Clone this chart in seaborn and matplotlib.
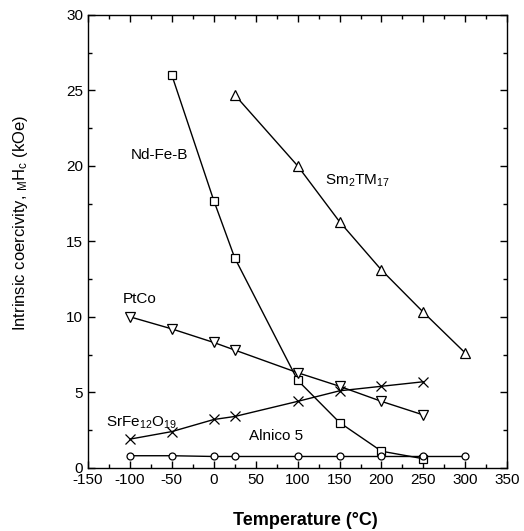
import matplotlib
matplotlib.use("Agg")
import matplotlib.pyplot as plt
from matplotlib.ticker import MultipleLocator
import pandas as pd
import seaborn as sns

# coercivity vs temperature
ndfeb_t = [-50, 0, 25, 100, 150, 200, 250]
ndfeb_h = [26.0, 17.7, 13.9, 5.8, 3.0, 1.1, 0.6]

smtm_t = [25, 100, 150, 200, 250, 300]
smtm_h = [24.7, 20.0, 16.3, 13.1, 10.3, 7.6]

ptco_t = [-100, -50, 0, 25, 100, 150, 200, 250]
ptco_h = [10.0, 9.2, 8.3, 7.8, 6.3, 5.4, 4.4, 3.5]

srfe_t = [-100, -50, 0, 25, 100, 150, 200, 250]
srfe_h = [1.9, 2.4, 3.2, 3.4, 4.4, 5.1, 5.4, 5.7]

alnico_t = [-100, -50, 0, 25, 100, 150, 200, 250, 300]
alnico_h = [0.8, 0.8, 0.75, 0.75, 0.75, 0.75, 0.75, 0.75, 0.75]

sns.set_style("ticks")
plt.rcParams['font.family'] = ['Liberation Sans', 'DejaVu Sans']
plt.rcParams['mathtext.default'] = 'regular'
plt.rcParams['axes.unicode_minus'] = False
plt.rcParams['text.color'] = 'black'
plt.rcParams['axes.labelcolor'] = 'black'

series = [
    (ndfeb_t, ndfeb_h, 's', 5.5),
    (smtm_t, smtm_h, '^', 6.5),
    (ptco_t, ptco_h, 'v', 6.5),
    (srfe_t, srfe_h, 'x', 7),
    (alnico_t, alnico_h, 'o', 5),
]

fig = plt.figure(figsize=(5.24, 5.31), dpi=100)
ax = fig.add_axes([0.168, 0.119, 0.800, 0.853])

for t, h, m, ms in series:
    df = pd.DataFrame({'T': t, 'H': h})
    sns.lineplot(data=df, x='T', y='H', ax=ax, color='black', linewidth=1.0,
                 marker=m, markersize=ms, markerfacecolor='white',
                 markeredgecolor='black', markeredgewidth=0.9)

ax.set_xlim(-150, 350)
ax.set_ylim(0, 30)
ax.xaxis.set_major_locator(MultipleLocator(50))
ax.xaxis.set_minor_locator(MultipleLocator(25))
ax.yaxis.set_major_locator(MultipleLocator(5))
ax.yaxis.set_minor_locator(MultipleLocator(2.5))
ax.tick_params(which='both', direction='in', top=True, right=True, width=1,
               colors='black', labelcolor='black')
ax.tick_params(which='major', length=5, labelsize=11)
ax.tick_params(which='minor', length=3)
for s in ax.spines.values():
    s.set_linewidth(1)
    s.set_color('black')

ax.set_xlabel("Temperature (°C)", fontsize=13, fontweight='bold')
ax.xaxis.set_label_coords(0.519, -0.097)
ax.set_ylabel("Intrinsic coercivity, $_{M}$H$_{c}$ (kOe)", fontsize=12)
ax.yaxis.set_label_coords(-0.138, 0.541)

lab = dict(fontsize=11, ha='center', va='center', color='black')
ax.text(-65, 20.7, "Nd-Fe-B", **lab)
ax.text(171, 19.0, "Sm$_2$TM$_{17}$", **lab)
ax.text(-89, 11.2, "PtCo", **lab)
ax.text(-86, 3.0, "SrFe$_{12}$O$_{19}$", **lab)
ax.text(74, 2.1, "Alnico 5", **lab)

fig.savefig("out.png", dpi=100)
